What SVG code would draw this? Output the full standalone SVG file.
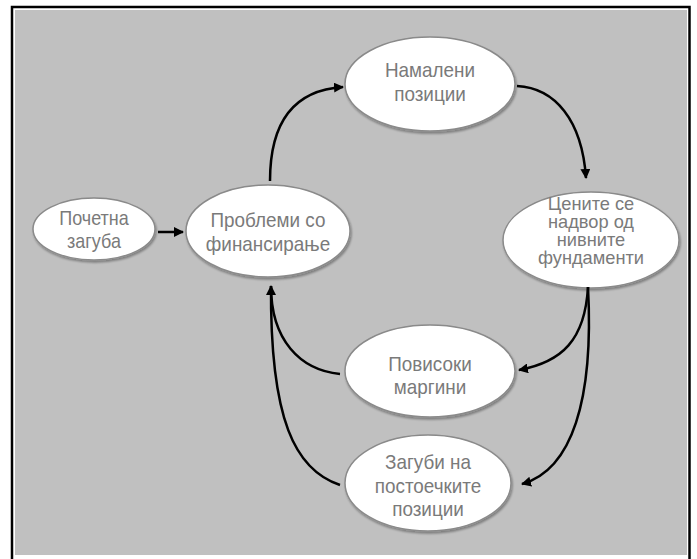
<svg xmlns="http://www.w3.org/2000/svg" width="697" height="559" viewBox="0 0 697 559">
  <defs>
    <marker id="ah" viewBox="0 0 10 10" refX="9" refY="5" markerWidth="4" markerHeight="4" orient="auto" markerUnits="strokeWidth">
      <path d="M0,0 L10,5 L0,10 Z" fill="#000"/>
    </marker>
    <filter id="sh" x="-10%" y="-10%" width="130%" height="130%">
      <feGaussianBlur in="SourceAlpha" stdDeviation="1"/>
      <feOffset dx="1" dy="1.5" result="b"/>
      <feComponentTransfer><feFuncA type="linear" slope="0.35"/></feComponentTransfer>
      <feMerge><feMergeNode/><feMergeNode in="SourceGraphic"/></feMerge>
    </filter>
  </defs>
  <style>
    .node ellipse { fill: #fff; stroke: #8a8a8a; stroke-width: 1.5; filter: url(#sh); }
    .node text { font-family: "Liberation Sans", Arial, sans-serif; font-size: 21px; fill: #7a7a7a; text-anchor: middle; }
    .conn path { fill: none; stroke: #000; stroke-width: 2.5; }
  </style>
  <rect x="0" y="0" width="697" height="559" fill="#fff"/>
  <rect x="12" y="7" width="677.5" height="560" fill="#fff" stroke="#000" stroke-width="2.5"/>
  <rect x="15" y="10" width="672" height="545" fill="#c0c0c0"/>

  <g id="node-pochetna" class="node">
    <ellipse cx="94" cy="229" rx="61" ry="31"/>
    <g transform="translate(94,0) scale(0.9,1)">
      <text x="0" y="225" style="font-size:20px">Почетна</text>
      <text x="0" y="248" style="font-size:20px">загуба</text>
    </g>
  </g>
  <g id="node-problemi" class="node">
    <ellipse cx="268" cy="231" rx="82" ry="46"/>
    <g transform="translate(268,0) scale(0.9,1)">
      <text x="0" y="227">Проблеми со</text>
      <text x="0" y="251">финансирање</text>
    </g>
  </g>
  <g id="node-namaleni" class="node">
    <ellipse cx="430" cy="84" rx="85" ry="47"/>
    <g transform="translate(430,0) scale(0.9,1)">
      <text x="0" y="77">Намалени</text>
      <text x="0" y="101">позиции</text>
    </g>
  </g>
  <g id="node-cenite" class="node">
    <ellipse cx="591" cy="240" rx="88" ry="48"/>
    <g transform="translate(591,0) scale(0.96,1)">
      <text x="0" y="210" style="font-size:19px">Цените се</text>
      <text x="0" y="228" style="font-size:19px">надвор од</text>
      <text x="0" y="246" style="font-size:19px">нивните</text>
      <text x="0" y="264" style="font-size:19px">фундаменти</text>
    </g>
  </g>
  <g id="node-povisoki" class="node">
    <ellipse cx="430" cy="371" rx="85" ry="46"/>
    <g transform="translate(430,0) scale(0.9,1)">
      <text x="0" y="371">Повисоки</text>
      <text x="0" y="394">маргини</text>
    </g>
  </g>
  <g id="node-zagubi" class="node">
    <ellipse cx="428" cy="483" rx="83" ry="48"/>
    <g transform="translate(428,0) scale(0.9,1)">
      <text x="0" y="469">Загуби на</text>
      <text x="0" y="493">постоечките</text>
      <text x="0" y="516">позиции</text>
    </g>
  </g>

  <g id="connectors" class="conn">
    <path d="M158,232 L183,232" marker-end="url(#ah)"/>
    <path d="M270,181 C270,120 295,90 343,87" marker-end="url(#ah)"/>
    <path d="M517,86 C555,88 582,120 586,178" marker-end="url(#ah)"/>
    <path d="M588,287 C585,340 562,362 519,370" marker-end="url(#ah)"/>
    <path d="M588,287 C594,400 572,470 522,484" marker-end="url(#ah)"/>
    <path d="M340,374 C300,370 271,340 271,286" marker-end="url(#ah)"/>
    <path d="M340,485 C295,470 270,420 271,286"/>
  </g>
</svg>
